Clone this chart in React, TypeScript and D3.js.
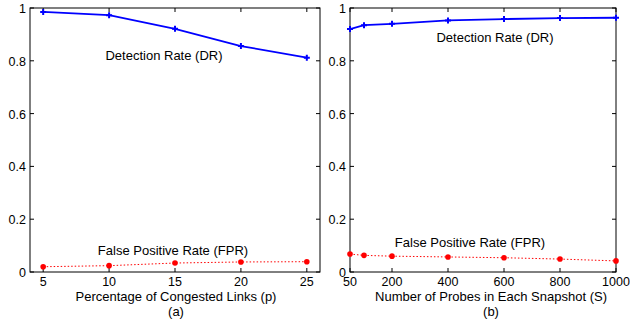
import React, { useEffect, useRef } from 'react';
import * as d3 from 'd3';

// panel (a): percentage of congested links
const pValues = [5, 10, 15, 20, 25];
const drA = [0.985, 0.973, 0.921, 0.856, 0.812];
const fprA = [0.02, 0.024, 0.034, 0.038, 0.039];

// panel (b): probes per snapshot
const sValues = [50, 100, 200, 400, 600, 800, 1000];
const drB = [0.92, 0.935, 0.94, 0.953, 0.958, 0.962, 0.963];
const fprB = [0.068, 0.063, 0.06, 0.057, 0.054, 0.049, 0.042];

const yTicks = [0, 0.2, 0.4, 0.6, 0.8, 1];
const pTicks = [5, 10, 15, 20, 25];
const sTicks = [50, 200, 400, 600, 800, 1000];

const FONT = 'Liberation Sans, Arial, sans-serif';
const FS = 12.5;

const App = () => {
  const svgRef = useRef<SVGSVGElement>(null);

  useEffect(() => {
    const svg = d3.select(svgRef.current);
    svg.selectAll('*').remove();

    const top = 8;
    const bottom = 272;
    const y = d3.scaleLinear().domain([0, 1]).range([bottom, top]);

    const panels = [
      {
        xs: pValues, dr: drA, fpr: fprA, ticks: pTicks,
        x: d3.scaleLinear().domain([4, 26]).range([30, 320]),
        xLabel: 'Percentage of Congested Links (p)', tag: '(a)',
        drPos: [164, 60], fprPos: [173, 255], labelX: 176,
      },
      {
        xs: sValues, dr: drB, fpr: fprB, ticks: sTicks,
        x: d3.scaleLinear().domain([50, 1000]).range([350, 616]),
        xLabel: 'Number of Probes in Each Snapshot (S)', tag: '(b)',
        drPos: [495, 42], fprPos: [470, 247], labelX: 491,
      },
    ];

    panels.forEach(p => {
      const g = svg.append('g');
      const [x0, x1] = p.x.range();

      // tick marks point inward on every side, matlab style
      p.ticks.forEach(t => {
        const xx = p.x(t);
        g.append('line').attr('x1', xx).attr('x2', xx).attr('y1', bottom).attr('y2', bottom - 4)
          .attr('stroke', '#000');
        g.append('line').attr('x1', xx).attr('x2', xx).attr('y1', top).attr('y2', top + 4)
          .attr('stroke', '#000');
        g.append('text').attr('x', xx).attr('y', bottom + 14)
          .attr('text-anchor', 'middle').attr('font-size', FS).attr('font-family', FONT)
          .text(t);
      });
      yTicks.forEach(t => {
        const yy = y(t);
        g.append('line').attr('x1', x0).attr('x2', x0 + 4).attr('y1', yy).attr('y2', yy)
          .attr('stroke', '#000');
        g.append('line').attr('x1', x1).attr('x2', x1 - 4).attr('y1', yy).attr('y2', yy)
          .attr('stroke', '#000');
        g.append('text').attr('x', x0 - 4).attr('y', yy + 5)
          .attr('text-anchor', 'end').attr('font-size', FS).attr('font-family', FONT)
          .text(t);
      });

      g.append('rect').attr('x', x0).attr('y', top).attr('width', x1 - x0).attr('height', bottom - top)
        .attr('fill', 'none').attr('stroke', '#000').attr('stroke-width', 1);

      const line = d3.line<number>().x((d, i) => p.x(p.xs[i])).y(d => y(d));

      g.append('path').datum(p.dr).attr('d', line).attr('fill', 'none')
        .attr('stroke', '#0000ff').attr('stroke-width', 1.8);
      p.dr.forEach((d, i) => {
        const cx = p.x(p.xs[i]), cy = y(d);
        g.append('path').attr('d', `M${cx - 3},${cy}H${cx + 3}M${cx},${cy - 3}V${cy + 3}`)
          .attr('stroke', '#0000ff').attr('stroke-width', 2);
      });

      g.append('path').datum(p.fpr).attr('d', line).attr('fill', 'none')
        .attr('stroke', '#ff0000').attr('stroke-width', 1).attr('stroke-dasharray', '1.5,2');
      p.fpr.forEach((d, i) => {
        g.append('circle').attr('cx', p.x(p.xs[i])).attr('cy', y(d)).attr('r', 2.8)
          .attr('fill', '#ff0000');
      });

      g.append('text').attr('x', p.drPos[0]).attr('y', p.drPos[1]).attr('text-anchor', 'middle')
        .attr('font-size', 13).attr('font-family', FONT).text('Detection Rate (DR)');
      g.append('text').attr('x', p.fprPos[0]).attr('y', p.fprPos[1]).attr('text-anchor', 'middle')
        .attr('font-size', 13).attr('font-family', FONT).text('False Positive Rate (FPR)');
      g.append('text').attr('x', p.labelX).attr('y', 301).attr('text-anchor', 'middle')
        .attr('font-size', 13).attr('font-family', FONT).text(p.xLabel);
      g.append('text').attr('x', p.labelX).attr('y', 316).attr('text-anchor', 'middle')
        .attr('font-size', 13).attr('font-family', FONT).text(p.tag);
    });
  }, []);

  return (
    <svg ref={svgRef} width={630} height={325}
      style={{ position: 'absolute', left: 0, top: 0, background: '#fff' }} />
  );
};

export default App;
